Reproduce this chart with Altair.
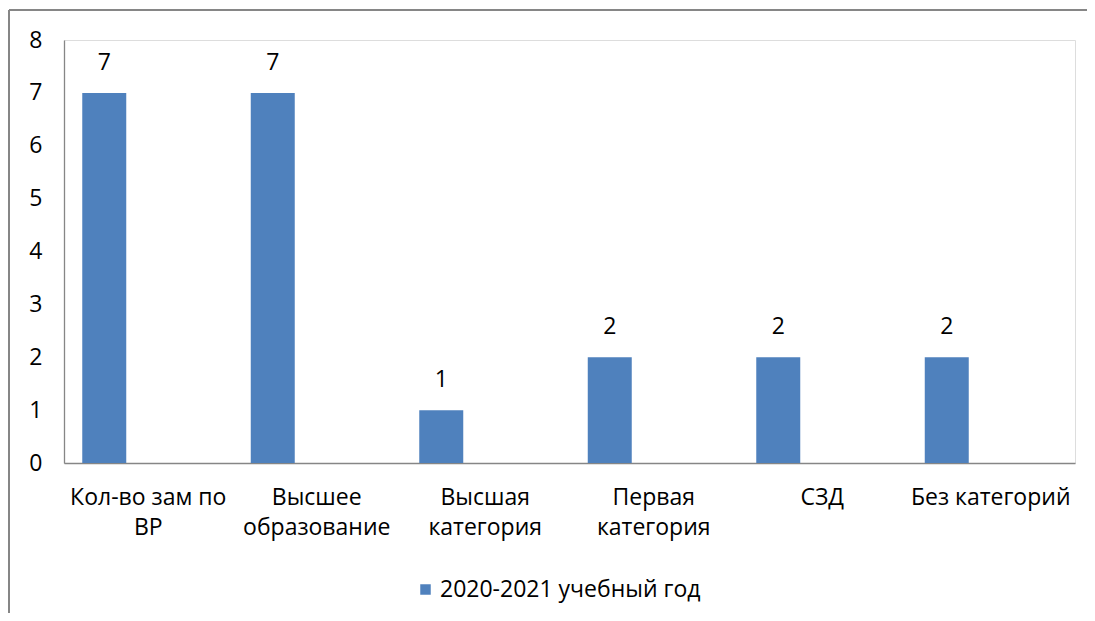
import altair as alt
import pandas as pd

categories = [
    "Кол-во зам по\nВР",
    "Высшее\nобразование",
    "Высшая\nкатегория",
    "Первая\nкатегория",
    "СЗД",
    "Без категорий",
]
values = [7, 7, 1, 2, 2, 2]
series_name = "2020-2021 учебный год"
series_slots = [series_name, "ряд 2", "ряд 3"]
y_ticks = [0, 1, 2, 3, 4, 5, 6, 7, 8]

df = pd.DataFrame({"cat": categories, "value": values, "series": [series_name] * len(values)})

FONT = "Open Sans"
FS = 23
BLUE = "#4F81BD"
GRAY = "#868686"

x_enc = alt.X(
    "cat:N",
    sort=categories,
    scale=alt.Scale(paddingInner=0, paddingOuter=0),
    axis=alt.Axis(
        title=None,
        labelAngle=0,
        labelExpr="split(datum.value, '\\n')",
        labelFont=FONT,
        labelFontSize=FS,
        labelColor="#000000",
        labelLineHeight=30,
        labelPadding=23,
        labelLimit=0,
        ticks=False,
        domainColor=GRAY,
        domainWidth=1.3,
        labelBaseline="top",
    ),
)
xoff = alt.XOffset(
    "series:N",
    scale=alt.Scale(domain=series_slots, paddingInner=0, paddingOuter=0.415),
)
y_enc = alt.Y(
    "value:Q",
    scale=alt.Scale(domain=[0, 8], nice=False),
    axis=alt.Axis(
        title=None,
        values=y_ticks,
        grid=False,
        ticks=False,
        labelFont=FONT,
        labelFontSize=FS,
        labelColor="#000000",
        labelPadding=22,
        domainColor=GRAY,
        domainWidth=1.3,
    ),
)

bars = alt.Chart(df).mark_bar(color=BLUE).encode(
    x=x_enc,
    xOffset=xoff,
    y=y_enc,
    color=alt.Color(
        "series:N",
        scale=alt.Scale(domain=[series_name], range=[BLUE]),
        legend=alt.Legend(
            title=None,
            orient="none",
            legendX=350,
            legendY=538,
            symbolType="square",
            symbolSize=110,
            symbolStrokeWidth=0,
            labelFont=FONT,
            labelFontSize=FS,
            labelColor="#000000",
            labelOffset=3,
            labelLimit=0,
        ),
    ),
)

labels = alt.Chart(df).mark_text(
    font=FONT, fontSize=FS, color="#000000", baseline="bottom", dy=-18
).encode(
    x=alt.X("cat:N", sort=categories),
    xOffset=alt.XOffset("series:N"),
    y="value:Q",
    text="value:Q",
)

frame_top = alt.Chart(df).mark_rule(color=GRAY, strokeWidth=1.5, clip=False).encode(
    x=alt.value(-55), x2=alt.value(1030), y=alt.value(-30)
)
frame_left = alt.Chart(df).mark_rule(color=GRAY, strokeWidth=1.5, clip=False).encode(
    x=alt.value(-55), y=alt.value(-30), y2=alt.value(600)
)

chart = (
    alt.layer(frame_top, frame_left, bars, labels)
    .properties(
        width=1011,
        height=423,
        autosize=alt.AutoSizeParams(type="none"),
        padding={"left": 56, "top": 32, "right": 12, "bottom": 150},
    )
    .configure_view(stroke=None)
    .configure(background="white")
)

chart.save("out.html", embed_options={"renderer": "svg", "actions": False})
